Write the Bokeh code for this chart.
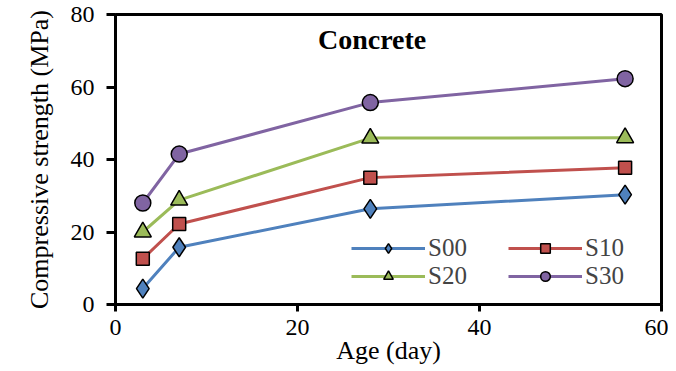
from bokeh.plotting import figure
from bokeh.models import Range1d, FixedTicker, Label, Legend
from bokeh.embed import file_html
from bokeh.resources import INLINE

ages = [3, 7, 28, 56]
s00 = [4.4, 15.8, 26.4, 30.3]
s10 = [12.6, 22.2, 35.0, 37.7]
s20 = [20.0, 28.8, 45.9, 46.0]
s30 = [28.0, 41.5, 55.7, 62.3]
series_names = ["S00", "S10", "S20", "S30"]
x_ticks = [0, 20, 40, 60]
y_ticks = [0, 20, 40, 60, 80]

FONT = "Liberation Serif"

p = figure(width=668, height=370, output_backend="svg", toolbar_location=None,
           x_range=Range1d(0, 60), y_range=Range1d(0, 80),
           min_border_left=115, min_border_right=7, min_border_top=14, min_border_bottom=66)
p.grid.visible = False
p.outline_line_color = "black"
p.outline_line_width = 3
p.background_fill_color = "white"

for ax in (p.xaxis[0], p.yaxis[0]):
    ax.axis_line_width = 3
    ax.axis_line_color = "black"
    ax.major_tick_line_width = 3
    ax.major_tick_in = 0
    ax.minor_tick_line_color = None
    ax.major_label_text_font = FONT
    ax.major_label_text_font_size = "24px"
    ax.major_label_text_color = "black"
    ax.axis_label_text_font = FONT
    ax.axis_label_text_font_style = "normal"
    ax.axis_label_text_color = "black"

p.xaxis.major_tick_out = 7
p.yaxis.major_tick_out = 9
p.xaxis.axis_label_text_font_size = "26px"
p.yaxis.axis_label_text_font_size = "26px"
p.xaxis.ticker = FixedTicker(ticks=x_ticks)
p.yaxis.ticker = FixedTicker(ticks=y_ticks)
p.xaxis.axis_label = "Age (day)"
p.yaxis.axis_label = "Compressive strength (MPa)"
p.xaxis.major_label_standoff = 8
p.xaxis.axis_label_standoff = -2
p.yaxis.major_label_standoff = 12
p.yaxis.axis_label_standoff = 14

colors = ["#4F81BD", "#C0504D", "#9BBB59", "#8064A2"]
markers = ["diamond", "square", "triangle", "circle"]
sizes = [19, 13, 17, 16]
data = [s00, s10, s20, s30]

items = {}
for name, vals, c, m, s in zip(series_names, data, colors, markers, sizes):
    r1 = p.line(ages, vals, line_color=c, line_width=3)
    r2 = p.scatter(ages, vals, marker=m, size=s, fill_color=c, line_color="black", line_width=1.5)
    items[name] = [r1, r2]

# column-major fill: first column S00, S20; second column S10, S30
order = ["S00", "S20", "S10", "S30"]
legend = Legend(items=[(n, items[n]) for n in order], ncols=2, location=(236, 14),
                glyph_width=74, glyph_height=24, label_text_font=FONT,
                label_text_font_size="25px", label_text_line_height=0.8,
                label_standoff=3, label_width=80,
                label_height=20, spacing=0, padding=2, margin=0,
                border_line_color=None, background_fill_alpha=0)
p.add_layout(legend, "center")

title = Label(x=28.2, y=73, text="Concrete", text_font=FONT, text_font_style="bold",
              text_font_size="28px", text_align="center", text_baseline="middle",
              text_color="black")
p.add_layout(title)

open("out.html", "w").write(file_html(p, INLINE))
